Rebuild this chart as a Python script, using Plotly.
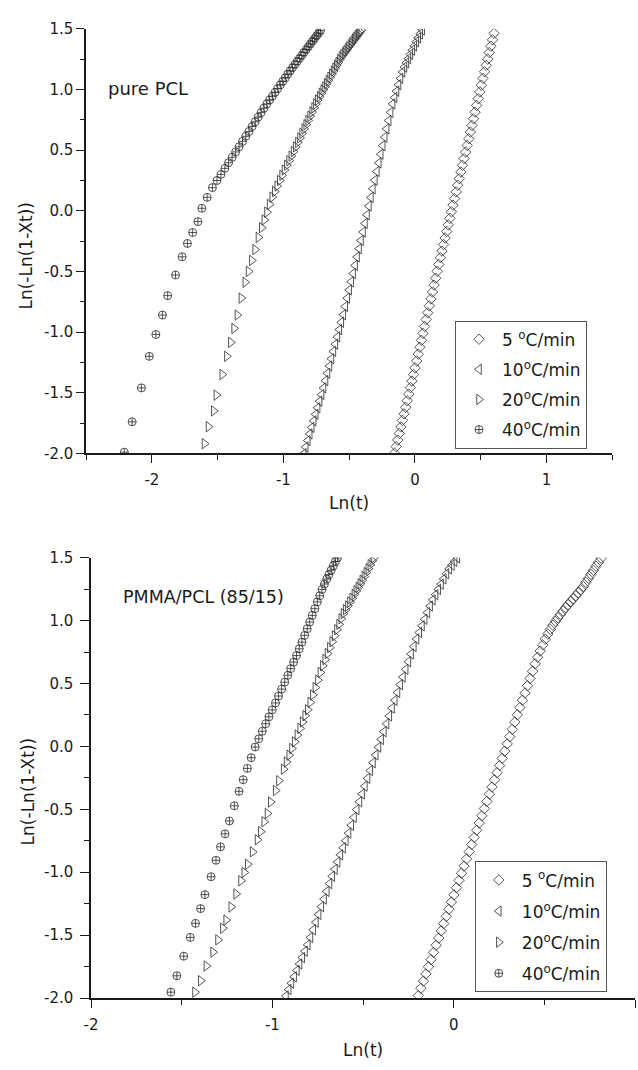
import plotly.graph_objects as go

# ---------------- data: top panel (pure PCL) ----------------
top_5_x = [-0.155, -0.143, -0.131, -0.119, -0.107, -0.095, -0.083, -0.071, -0.059, -0.047, -0.035, -0.023, -0.011,
           0.001, 0.013, 0.025, 0.037, 0.049, 0.061, 0.073, 0.085, 0.097, 0.109, 0.121, 0.133, 0.145, 0.157, 0.169, 0.181,
           0.193, 0.205, 0.217, 0.229, 0.241, 0.253, 0.265, 0.277, 0.289,
           0.301, 0.313, 0.325, 0.337, 0.349, 0.361, 0.373, 0.385, 0.397, 0.409, 0.421, 0.433, 0.445,
           0.457, 0.469, 0.481, 0.493, 0.505, 0.517, 0.529,
           0.541, 0.553, 0.565, 0.577, 0.589, 0.601]
top_5_y = [-1.998, -1.944, -1.890, -1.836, -1.782, -1.728, -1.674, -1.620, -1.566, -1.512, -1.458, -1.404, -1.350,
           -1.295, -1.238, -1.182, -1.125, -1.068, -1.011, -0.954, -0.897, -0.841, -0.784, -0.727, -0.670, -0.613, -0.556, -0.499, -0.443,
           -0.387, -0.333, -0.279, -0.225, -0.171, -0.117, -0.063, -0.009, 0.046,
           0.100, 0.155, 0.210, 0.264, 0.319, 0.374, 0.429, 0.483, 0.538, 0.593, 0.648, 0.702, 0.757,
           0.812, 0.868, 0.923, 0.979, 1.034, 1.090, 1.145,
           1.198, 1.249, 1.303, 1.356, 1.408, 1.461]

top_10_x = [-0.845, -0.830, -0.815, -0.800, -0.785, -0.770, -0.755, -0.740, -0.725, -0.710,
            -0.695, -0.680, -0.665, -0.650, -0.635, -0.620, -0.605, -0.590, -0.575, -0.560,
            -0.545, -0.530, -0.515, -0.500, -0.485, -0.470, -0.455, -0.440, -0.425, -0.410,
            -0.395, -0.380, -0.365, -0.350, -0.335, -0.320, -0.305, -0.290, -0.275, -0.260, -0.245,
            -0.230, -0.215, -0.200, -0.185,
            -0.170, -0.155, -0.140, -0.125, -0.110, -0.095,
            -0.080, -0.065, -0.050, -0.035, -0.020, -0.005,
            0.010, 0.025, 0.040, 0.055]
top_10_y = [-2.002, -1.948, -1.894, -1.840, -1.786, -1.732, -1.678, -1.624, -1.570, -1.516,
            -1.460, -1.400, -1.340, -1.280, -1.220, -1.160, -1.100, -1.040, -0.980, -0.920,
            -0.857, -0.789, -0.721, -0.653, -0.586, -0.518, -0.451, -0.381, -0.313, -0.245,
            -0.176, -0.105, -0.034, 0.038, 0.109, 0.180, 0.251, 0.323, 0.394, 0.465, 0.536,
            0.606, 0.674, 0.743, 0.811,
            0.880, 0.933, 0.985, 1.038, 1.090, 1.143,
            1.183, 1.218, 1.253, 1.288, 1.323, 1.358,
            1.392, 1.424, 1.457, 1.489]

top_20_x = [-1.600, -1.570, -1.530, -1.510, -1.465, -1.430, -1.400, -1.375, -1.350, -1.320, -1.290, -1.265, -1.240,
            -1.215, -1.190,
            -1.165, -1.145, -1.125, -1.105, -1.085, -1.066, -1.047, -1.028, -1.010, -0.992, -0.974, -0.957, -0.940,
            -0.923, -0.906, -0.890, -0.874, -0.858, -0.842, -0.827, -0.812, -0.797, -0.782, -0.767, -0.753, -0.739,
            -0.725, -0.711, -0.697, -0.684, -0.671, -0.658, -0.645, -0.632, -0.619, -0.607, -0.595, -0.583, -0.571,
            -0.559, -0.547, -0.535, -0.524, -0.513, -0.502, -0.491, -0.480, -0.469, -0.458, -0.448, -0.438, -0.428,
            -0.418, -0.408]
top_20_y = [-1.920, -1.780, -1.650, -1.520, -1.350, -1.200, -1.085, -0.970, -0.860, -0.720, -0.590, -0.500, -0.410,
            -0.320, -0.220,
            -0.140, -0.076, -0.012, 0.052, 0.112, 0.158, 0.203, 0.249, 0.292, 0.335, 0.375, 0.412, 0.450,
            0.487, 0.526, 0.563, 0.600, 0.637, 0.674, 0.709, 0.744, 0.778, 0.813, 0.848, 0.880, 0.912,
            0.940, 0.968, 0.996, 1.021, 1.047, 1.073, 1.099, 1.125, 1.151, 1.175, 1.199, 1.222, 1.246,
            1.267, 1.285, 1.302, 1.318, 1.334, 1.350, 1.367, 1.383, 1.399, 1.415, 1.429, 1.444, 1.458,
            1.473, 1.488]

top_40_x = [-2.210, -2.150, -2.080, -2.020, -1.970, -1.920, -1.880, -1.820, -1.770, -1.730, -1.690, -1.650, -1.620,
            -1.580, -1.540,
            -1.505, -1.475, -1.445, -1.417, -1.390, -1.363, -1.337, -1.311, -1.286, -1.262, -1.238, -1.215, -1.192,
            -1.170, -1.148, -1.126, -1.105, -1.084, -1.064, -1.044, -1.024, -1.005, -0.986, -0.967, -0.949, -0.931,
            -0.913, -0.895, -0.878, -0.861, -0.844, -0.827, -0.811, -0.795, -0.779, -0.763, -0.748, -0.733, -0.718]
top_40_y = [-1.990, -1.740, -1.460, -1.200, -1.020, -0.860, -0.700, -0.530, -0.380, -0.270, -0.180, -0.090, 0.020,
            0.110, 0.190,
            0.249, 0.299, 0.349, 0.395, 0.440, 0.484, 0.527, 0.571, 0.613, 0.653, 0.694, 0.732, 0.771,
            0.808, 0.845, 0.880, 0.912, 0.944, 0.975, 1.006, 1.037, 1.066, 1.095, 1.125, 1.152, 1.179,
            1.205, 1.231, 1.255, 1.279, 1.304, 1.328, 1.351, 1.374, 1.397, 1.419, 1.441, 1.462, 1.484]

# ---------------- data: bottom panel (PMMA/PCL 85/15) ----------------
bot_5_x = [-0.195, -0.181, -0.167, -0.153, -0.139, -0.125, -0.111, -0.097, -0.083, -0.069, -0.055, -0.041,
           -0.027, -0.013, 0.001, 0.015, 0.029, 0.043, 0.057, 0.071, 0.085, 0.099, 0.113, 0.127, 0.141, 0.155,
           0.169, 0.183, 0.197, 0.211, 0.225, 0.239, 0.253, 0.267, 0.281, 0.295,
           0.309, 0.323, 0.337, 0.351, 0.365, 0.379, 0.393, 0.407, 0.421, 0.435, 0.449,
           0.463, 0.477, 0.491, 0.505, 0.519,
           0.533, 0.547, 0.561, 0.575, 0.589, 0.603,
           0.617, 0.631, 0.645, 0.659, 0.673, 0.687, 0.701,
           0.715, 0.729, 0.743, 0.757, 0.771, 0.785, 0.799, 0.813]
bot_5_y = [-1.980, -1.922, -1.865, -1.808, -1.751, -1.694, -1.637, -1.580, -1.523, -1.466, -1.408, -1.351,
           -1.294, -1.237, -1.180, -1.123, -1.065, -1.008, -0.951, -0.894, -0.837, -0.780, -0.723, -0.666, -0.609, -0.552,
           -0.494, -0.437, -0.380, -0.323, -0.266, -0.209, -0.152, -0.095, -0.038, 0.020,
           0.077, 0.135, 0.193, 0.251, 0.309, 0.367, 0.424, 0.482, 0.540, 0.598, 0.656,
           0.708, 0.758, 0.806, 0.852, 0.893,
           0.930, 0.963, 0.994, 1.022, 1.049, 1.076,
           1.102, 1.126, 1.150, 1.173, 1.197, 1.221, 1.245,
           1.271, 1.303, 1.335, 1.367, 1.399, 1.431, 1.463, 1.495]

bot_10_x = [-0.925, -0.910, -0.895, -0.880, -0.865, -0.850, -0.835, -0.820, -0.805,
            -0.790, -0.775, -0.760, -0.745, -0.730, -0.715, -0.700, -0.685,
            -0.670, -0.655, -0.640, -0.625, -0.610, -0.595,
            -0.580, -0.565, -0.550, -0.535, -0.520, -0.505, -0.490, -0.475, -0.460, -0.445, -0.430, -0.415,
            -0.400, -0.385, -0.370, -0.355, -0.340, -0.325, -0.310,
            -0.295, -0.280, -0.265, -0.250, -0.235, -0.220,
            -0.205, -0.190, -0.175, -0.160, -0.145, -0.130,
            -0.115, -0.100, -0.085, -0.070, -0.055, -0.040,
            -0.025, -0.010, 0.005, 0.020]
bot_10_y = [-1.983, -1.932, -1.882, -1.831, -1.780, -1.729, -1.678, -1.628, -1.577,
            -1.519, -1.458, -1.397, -1.335, -1.274, -1.213, -1.152, -1.090,
            -1.032, -0.976, -0.919, -0.862, -0.806, -0.749,
            -0.689, -0.627, -0.564, -0.502, -0.440, -0.378, -0.316, -0.254, -0.192, -0.130, -0.068, -0.006,
            0.055, 0.117, 0.180, 0.242, 0.304, 0.366, 0.429,
            0.490, 0.551, 0.612, 0.673, 0.734, 0.794,
            0.853, 0.905, 0.958, 1.010, 1.063, 1.115,
            1.164, 1.206, 1.247, 1.289, 1.331, 1.372,
            1.410, 1.440, 1.470, 1.498]

bot_20_x = [-1.427, -1.395, -1.364, -1.327, -1.300, -1.273, -1.255, -1.227, -1.200, -1.173, -1.155, -1.136,
            -1.109, -1.082, -1.064, -1.045, -1.027, -1.009, -0.982, -0.964, -0.938,
            -0.922, -0.907, -0.892, -0.877, -0.862, -0.847, -0.833, -0.819,
            -0.805, -0.791, -0.777, -0.763, -0.749, -0.735, -0.722,
            -0.709, -0.696, -0.683, -0.670, -0.657, -0.644, -0.632, -0.620,
            -0.608, -0.596, -0.584, -0.572, -0.560, -0.548, -0.537, -0.526, -0.515, -0.504,
            -0.493, -0.482, -0.471, -0.460, -0.449, -0.440]
bot_20_y = [-1.953, -1.862, -1.745, -1.635, -1.537, -1.445, -1.380, -1.276, -1.172, -1.068, -1.002, -0.937,
            -0.838, -0.742, -0.677, -0.599, -0.533, -0.442, -0.351, -0.273, -0.181,
            -0.124, -0.070, -0.017, 0.036, 0.090, 0.143, 0.194, 0.244,
            0.291, 0.350, 0.409, 0.468, 0.527, 0.587, 0.641,
            0.690, 0.737, 0.785, 0.832, 0.879, 0.927, 0.970, 1.014,
            1.055, 1.086, 1.116, 1.147, 1.177, 1.208, 1.236, 1.264, 1.292, 1.320,
            1.350, 1.381, 1.412, 1.443, 1.475, 1.499]

bot_40_x = [-1.560, -1.527, -1.489, -1.453, -1.424, -1.396, -1.372, -1.338, -1.311, -1.286, -1.261, -1.237,
            -1.210, -1.184, -1.161, -1.138, -1.117, -1.095,
            -1.075, -1.056, -1.037, -1.019, -1.001, -0.983, -0.966, -0.949, -0.932, -0.915, -0.899, -0.883,
            -0.867, -0.852, -0.837, -0.822, -0.808, -0.794, -0.780, -0.766, -0.752, -0.739, -0.726, -0.713,
            -0.700, -0.688, -0.676, -0.664, -0.652, -0.641]
bot_40_y = [-1.953, -1.823, -1.667, -1.518, -1.406, -1.289, -1.178, -1.036, -0.905, -0.798, -0.695, -0.593,
            -0.472, -0.357, -0.265, -0.175, -0.090, -0.005,
            0.060, 0.120, 0.180, 0.235, 0.290, 0.345, 0.400, 0.455, 0.510, 0.565, 0.618, 0.670,
            0.722, 0.775, 0.828, 0.882, 0.935, 0.988, 1.041, 1.094, 1.148, 1.197, 1.247, 1.290,
            1.330, 1.365, 1.400, 1.435, 1.470, 1.498]

series_names = ["5 <sup>o</sup>C/min", "10<sup>o</sup>C/min", "20<sup>o</sup>C/min", "40<sup>o</sup>C/min"]
y_tickvals = [-2.0, -1.5, -1.0, -0.5, 0.0, 0.5, 1.0, 1.5]
y_ticktext = ["-2.0", "-1.5", "-1.0", "-0.5", "0.0", "0.5", "1.0", "1.5"]
x_top_tickvals = [-2, -1, 0, 1]
x_top_ticktext = ["-2", "-1", "0", "1"]
x_bot_tickvals = [-2, -1, 0, 1]
x_bot_ticktext = ["-2", "-1", "0", "1"]

FONT = "DejaVu Sans"
INK = "#1a1a1a"
symbols = ["diamond-open", "triangle-left-open", "triangle-right-open", "circle-cross-open"]
sizes = [8, 9, 9, 8]

top_data = [(top_5_x, top_5_y), (top_10_x, top_10_y), (top_20_x, top_20_y), (top_40_x, top_40_y)]
bot_data = [(bot_5_x, bot_5_y), (bot_10_x, bot_10_y), (bot_20_x, bot_20_y), (bot_40_x, bot_40_y)]

fig = go.Figure()
for i, (xs, ys) in enumerate(top_data):
    fig.add_trace(go.Scatter(x=xs, y=ys, mode="markers", name=series_names[i],
                             xaxis="x", yaxis="y", legend="legend", legendgroup="t%d" % i,
                             marker=dict(symbol=symbols[i], size=sizes[i], color="#2a2a2a",
                                         line=dict(width=0.8, color="#2a2a2a"))))
for i, (xs, ys) in enumerate(bot_data):
    fig.add_trace(go.Scatter(x=xs, y=ys, mode="markers", name=series_names[i],
                             xaxis="x2", yaxis="y2", legend="legend2", legendgroup="b%d" % i,
                             marker=dict(symbol=symbols[i], size=sizes[i], color="#2a2a2a",
                                         line=dict(width=0.8, color="#2a2a2a"))))

W, H = 638, 1070

def px_x(p):
    return p / W

def px_y(p):
    return 1 - p / H

axis_common = dict(showline=True, linecolor=INK, linewidth=1.6, ticks="outside", tickcolor=INK,
                   tickwidth=1.3, showgrid=False, zeroline=False, mirror=False,
                   tickfont=dict(family=FONT, size=15, color=INK))

fig.update_layout(
    width=W, height=H, margin=dict(l=0, r=0, t=0, b=0),
    paper_bgcolor="white", plot_bgcolor="white",
    font=dict(family=FONT, color=INK),
    xaxis=dict(domain=[px_x(80), px_x(612)], range=[-2.5, 1.5], anchor="y",
               tickmode="array", tickvals=x_top_tickvals, ticktext=x_top_ticktext, ticklen=8,
               minor=dict(dtick=0.5, tick0=0, ticklen=5, ticks="outside", tickcolor=INK, tickwidth=1.3),
               ticklabelstandoff=4, **axis_common),
    yaxis=dict(domain=[px_y(452), px_y(20)], range=[-2.0, 1.5], anchor="x",
               tickmode="array", tickvals=y_tickvals, ticktext=y_ticktext, ticklen=8,
               minor=dict(dtick=0.25, tick0=0, ticklen=4, ticks="outside", tickcolor=INK, tickwidth=1.3),
               **axis_common),
    xaxis2=dict(domain=[px_x(85), px_x(635)], range=[-2.0, 1.0], anchor="y2",
                tickmode="array", tickvals=x_bot_tickvals, ticktext=x_bot_ticktext, ticklen=8,
                minor=dict(dtick=0.5, tick0=0, ticklen=5, ticks="outside", tickcolor=INK, tickwidth=1.3),
                ticklabelstandoff=4, **axis_common),
    yaxis2=dict(domain=[px_y(1006), px_y(558)], range=[-2.0, 1.5], anchor="x2",
                tickmode="array", tickvals=y_tickvals, ticktext=y_ticktext, ticklen=9,
                minor=dict(dtick=0.25, tick0=0, ticklen=5, ticks="outside", tickcolor=INK, tickwidth=1.3),
                ticklabelstandoff=4, **axis_common),
    legend=dict(x=px_x(453), y=px_y(317), xanchor="left", yanchor="top",
                bordercolor="#555", borderwidth=1, bgcolor="white",
                font=dict(family=FONT, size=17, color=INK), tracegroupgap=5, itemwidth=36),
    legend2=dict(x=px_x(473), y=px_y(867), xanchor="left", yanchor="top",
                 bordercolor="#555", borderwidth=1, bgcolor="white",
                 font=dict(family=FONT, size=17, color=INK), tracegroupgap=6, itemwidth=36),
    annotations=[
        dict(text="pure PCL", xref="paper", yref="paper", x=px_x(100), y=px_y(81),
             xanchor="left", yanchor="middle", showarrow=False, font=dict(family=FONT, size=18, color=INK)),
        dict(text="PMMA/PCL (85/15)", xref="paper", yref="paper", x=px_x(115), y=px_y(598),
             xanchor="left", yanchor="middle", showarrow=False, font=dict(family=FONT, size=17.5, color=INK)),
        dict(text="Ln(t)", xref="paper", yref="paper", x=px_x(346), y=px_y(502),
             xanchor="center", yanchor="middle", showarrow=False, font=dict(family=FONT, size=17, color=INK)),
        dict(text="Ln(t)", xref="paper", yref="paper", x=px_x(360), y=px_y(1059),
             xanchor="center", yanchor="middle", showarrow=False, font=dict(family=FONT, size=17, color=INK)),
        dict(text="Ln(-Ln(1-Xt))", xref="paper", yref="paper", x=px_x(19), y=px_y(251), textangle=-90,
             xanchor="center", yanchor="middle", showarrow=False, font=dict(family=FONT, size=17, color=INK)),
        dict(text="Ln(-Ln(1-Xt))", xref="paper", yref="paper", x=px_x(21), y=px_y(796), textangle=-90,
             xanchor="center", yanchor="middle", showarrow=False, font=dict(family=FONT, size=17, color=INK)),
    ],
)

fig.write_html("out.html")
